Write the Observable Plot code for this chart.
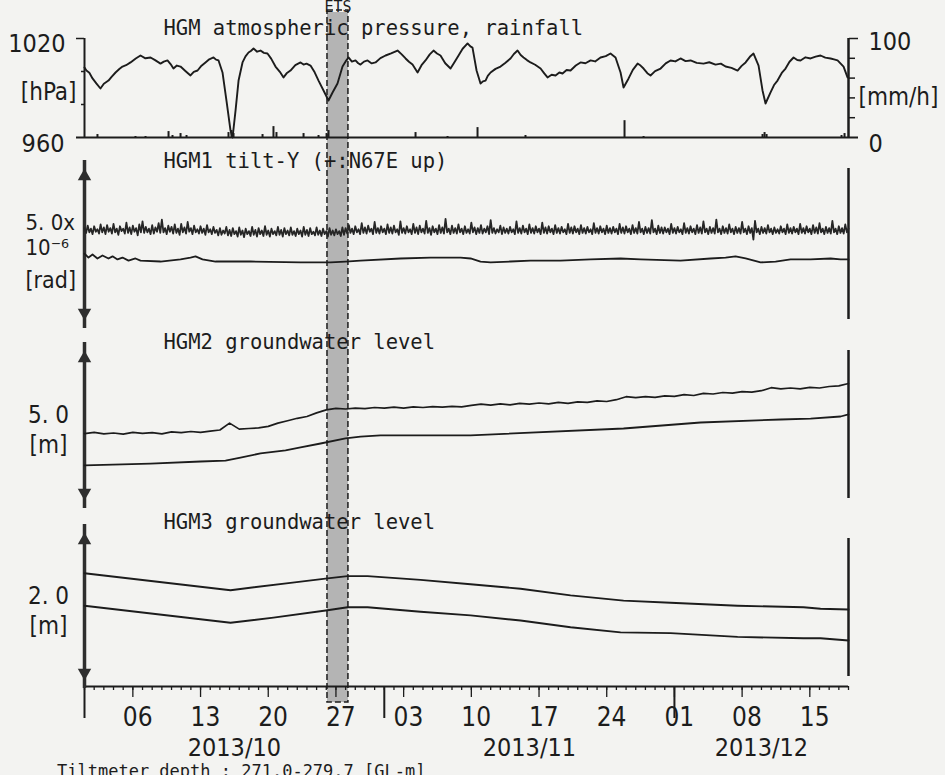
<!DOCTYPE html>
<html><head><meta charset="utf-8">
<script src="https://cdn.jsdelivr.net/npm/d3@7"></script>
<script src="https://cdn.jsdelivr.net/npm/@observablehq/plot@0.6"></script>
<style>
html,body{margin:0;padding:0;background:#f3f3f1;}
#wrap{position:relative;width:945px;height:775px;overflow:hidden;background:#f3f3f1;}
#wrap svg{position:absolute;left:0;top:0;background:transparent;}
#cap{position:absolute;left:57px;top:763px;font:17px/1 "DejaVu Sans Mono",monospace;color:#1c1c1c;white-space:pre;}
</style></head><body><div id="wrap"><div id="cap">Tiltmeter depth : 271.0-279.7 [GL-m]</div></div>
<script>
// ---------- data (days counted from 2013-10-01 00:00 UTC) ----------
const pressureDay = [0,0.2,0.5,0.83,1.2,1.65,2.0,2.48,2.8,3.21,3.6,3.93,4.3,4.76,5.3,5.79,6.3,6.83,7.3,7.86,8.2,8.58,8.9,9.2,9.55,9.93,10.4,10.96,11.3,11.69,12.1,12.51,12.9,13.34,13.6,13.86,14.27,14.68,15.1,15.31,15.62,15.93,16.34,16.65,16.96,17.2,17.48,17.85,18.2,18.55,18.92,19.3,19.75,20.2,20.58,20.9,21.3,21.8,22.34,22.65,22.96,23.37,23.8,24.2,24.82,25.23,25.65,26.16,26.68,27.0,27.3,27.65,28.02,28.3,28.54,28.9,29.27,29.7,30.09,30.6,31.13,31.7,32.37,32.8,33.2,33.55,33.92,34.44,34.85,35.26,35.7,36.09,36.45,36.81,37.3,37.85,38.3,38.68,39.1,39.61,39.9,40.12,40.54,40.95,41.2,41.47,41.7,41.99,42.5,43.02,43.5,44.05,44.4,44.78,45.1,45.4,45.75,46.12,46.6,47.16,47.5,47.88,48.3,48.71,49.1,49.43,49.85,50.26,50.8,51.29,51.8,52.33,52.8,53.36,53.9,54.39,54.91,55.43,55.74,56.26,56.7,57.19,57.5,57.81,58.2,58.53,59.0,59.57,60.1,60.6,61.1,61.63,62.15,62.67,63.3,64.01,64.6,65.25,65.8,66.29,66.9,67.53,67.95,68.36,68.8,69.18,69.7,70.11,70.42,70.94,71.3,71.66,72.1,72.49,72.9,73.32,73.7,74.04,74.55,75.08,75.6,76.11,76.6,77.15,77.5,77.87,78.49,78.9];
const pressureHPa = [1002.4,1000.6,999.2,995.8,993.0,989.7,992.6,994.5,996.8,999.4,1001.5,1003.0,1003.8,1005.5,1007.9,1009.7,1008.0,1008.5,1006.9,1004.8,1006.0,1006.7,1004.5,1001.8,1003.6,1003.0,1000.5,997.6,999.8,1000.6,1003.5,1005.5,1007.4,1008.5,1007.2,1006.7,999.4,982.4,964.2,960.0,976.4,994.5,1005.5,1009.2,1011.5,1012.4,1013.9,1012.0,1012.7,1011.3,1010.9,1007.8,1003.0,999.8,996.4,998.9,1000.6,1003.9,1005.5,1004.2,1004.8,1003.6,999.5,994.5,987.3,982.4,987.3,992.7,1003.0,1006.1,1008.5,1006.0,1006.7,1005.0,1004.2,1006.0,1006.7,1004.9,1005.5,1008.1,1009.7,1011.0,1012.7,1010.4,1007.9,1005.9,1004.2,999.4,1003.8,1006.7,1010.4,1012.7,1010.9,1009.7,1005.0,1001.8,1006.1,1009.7,1013.8,1017.0,1015.2,1014.5,1000.6,992.7,994.0,994.5,997.3,999.4,1001.6,1003.0,1005.2,1007.9,1010.6,1012.7,1010.0,1008.5,1006.9,1005.5,1004.1,1001.8,999.2,996.4,998.0,997.6,999.4,998.8,1000.9,1000.6,1003.6,1005.5,1005.0,1006.7,1006.1,1008.5,1009.3,1010.9,1008.5,999.4,990.3,995.8,1001.0,1004.8,1003.6,1001.8,999.0,997.6,1000.2,1001.8,1004.9,1006.7,1006.1,1007.9,1006.3,1006.7,1005.2,1004.8,1005.6,1004.2,1004.8,1003.0,1002.2,1000.6,1003.4,1005.5,1008.9,1010.9,1003.6,988.5,980.6,987.3,991.8,994.5,999.1,1001.8,1005.9,1008.5,1007.0,1006.7,1008.6,1007.9,1009.0,1009.7,1008.4,1007.9,1007.3,1006.7,1003.0,996.4];

const rainDay = [1.34,5.27,6.31,8.69,9.1,9.93,10.55,14.89,15.2,15.41,18.41,19.54,19.85,22.65,24.2,25.03,25.23,34.23,37.54,40.64,45.6,55.84,57.81,70.11,70.32,70.53,78.28,78.59];
const rainMMh = [3,1,1,6,2,4,2,5,7,4,3,11,5,4,2,4,7,5,1,10,2,17,1,3,5,3,2,4];

// HGM1 tilt-Y raw, one value every 4 hours (x10^-6 rad)
const tiltRaw = [
 3.04,2.88,3.12,2.90,3.02,2.84, 3.10,2.92,3.00,2.86,3.16,2.90, 3.06,2.84,3.14,2.92,3.04,2.86, 3.18,2.90,3.02,2.82,3.10,2.94, 3.02,2.86,3.22,2.88,3.06,2.84,
 3.12,2.92,3.04,2.80,3.16,2.90, 3.26,2.88,3.08,2.90,3.02,2.84, 3.14,2.86,3.06,2.92,3.20,2.88, 3.32,2.90,3.04,2.84,3.12,2.92, 3.08,2.86,3.16,2.88,3.02,2.82,
 3.18,2.90,3.06,2.86,3.24,2.92, 3.04,2.84,3.12,2.90,3.00,2.86, 3.10,2.88,3.02,2.82,3.14,2.90, 3.00,2.84,3.08,2.88,2.98,2.80, 3.04,2.82,2.96,2.86,3.08,2.80,
 2.98,2.78,3.04,2.84,2.94,2.76, 3.06,2.82,2.96,2.74,3.02,2.84, 2.94,2.78,3.08,2.82,2.98,2.76, 3.04,2.84,2.96,2.78,3.10,2.82, 2.96,2.76,3.02,2.84,2.94,2.80,
 3.08,2.82,2.98,2.76,3.04,2.84, 2.96,2.80,3.06,2.82,2.94,2.78, 3.02,2.84,2.96,2.76,3.08,2.82, 2.98,2.78,3.04,2.84,2.92,2.80, 3.06,2.82,2.96,2.78,3.02,2.84,
 2.94,2.76,3.04,2.82,2.96,2.80, 3.00,2.84,2.94,2.78,3.06,2.82, 3.04,2.86,3.14,2.88,3.02,2.84, 3.10,2.90,3.00,2.84,3.20,2.88, 3.06,2.86,3.12,2.92,3.02,2.84,
 3.24,2.88,3.04,2.86,3.10,2.90, 3.02,2.84,3.16,2.88,3.06,2.86, 3.12,2.90,3.00,2.82,3.26,2.88, 3.04,2.86,3.10,2.90,3.00,2.84, 3.18,2.88,3.06,2.84,3.12,2.90,
 3.02,2.86,3.28,2.88,3.04,2.82, 3.10,2.90,3.02,2.84,3.14,2.88, 3.06,2.86,3.34,2.90,3.02,2.84, 3.12,2.88,3.04,2.86,3.16,2.90, 3.02,2.84,3.10,2.88,3.00,2.86,
 3.22,2.90,3.06,2.84,3.04,2.88, 3.14,2.86,3.02,2.90,3.10,2.84, 3.30,2.88,3.04,2.86,3.00,2.90, 3.12,2.84,3.06,2.88,3.02,2.86, 3.08,2.90,3.00,2.84,3.26,2.88,
 3.04,2.86,3.12,2.90,3.02,2.84, 3.16,2.88,3.04,2.86,3.10,2.90, 3.02,2.84,3.22,2.88,3.06,2.86, 3.10,2.90,3.02,2.84,3.14,2.88, 3.04,2.86,3.08,2.90,3.00,2.84,
 3.18,2.88,3.06,2.86,3.10,2.90, 3.02,2.84,3.14,2.88,3.04,2.86, 3.08,2.90,3.00,2.84,3.20,2.88, 3.04,2.86,3.10,2.90,3.02,2.84, 3.12,2.88,3.04,2.86,3.08,2.90,
 3.02,2.84,3.18,2.88,3.06,2.86, 3.10,2.90,3.02,2.84,3.14,2.88, 3.04,2.86,3.24,2.90,3.02,2.84, 3.08,2.88,3.04,2.86,3.30,2.90, 3.02,2.84,3.12,2.88,3.06,2.86,
 3.06,2.90,3.02,2.84,3.18,2.88, 3.04,2.86,3.08,2.90,3.00,2.84, 3.20,2.88,3.04,2.86,3.10,2.90, 3.02,2.84,3.14,2.88,3.06,2.86, 3.26,2.90,3.02,2.84,3.08,2.88,
 3.04,2.86,3.32,2.90,3.02,2.84, 3.10,2.88,3.04,2.86,3.16,2.90, 3.02,2.84,3.08,2.88,3.04,2.86, 3.24,2.90,3.02,2.84,3.10,2.88, 3.04,2.66,3.28,2.90,3.02,2.84,
 3.08,2.88,3.04,2.86,3.14,2.90, 3.02,2.84,3.06,2.88,3.00,2.86, 3.10,2.90,3.02,2.84,3.16,2.88, 3.04,2.86,3.08,2.90,3.02,2.84, 3.18,2.88,3.04,2.86,3.10,2.90,
 3.02,2.84,3.14,2.88,3.06,2.86, 3.20,2.90,3.02,2.84,3.08,2.88, 3.04,2.86,3.28,2.90,3.02,2.84, 3.10,2.88,3.04,2.86,3.16,2.90, 3.02];
// HGM1 tilt-Y corrected
const tiltCorrDay = [0,0.41,0.83,1.34,1.86,2.48,2.9,3.41,3.93,4.55,5.27,5.79,7.86,9.93,10.96,11.48,12.2,13.55,17.17,22.34,25.44,26.99,28.54,32.68,35.78,38.88,39.92,40.95,41.99,44.05,46.12,49.22,52.33,55.43,57.5,61.63,64.74,66.29,67.32,68.36,69.91,71.46,73.01,75.08,77.15,78.18,79];
const tiltCorr = [2.20,2.07,2.17,2.04,2.14,2.04,2.11,2.01,2.07,1.97,2.04,1.97,1.94,2.01,2.07,2.11,2.01,1.94,1.94,1.91,1.91,1.94,1.97,2.04,2.07,2.07,2.04,1.94,1.91,1.94,1.97,1.97,2.01,2.04,2.01,1.97,2.04,2.07,2.11,2.04,1.91,1.94,2.01,2.01,2.04,2.01,2.01];

// HGM2 groundwater level, raw (daily) and corrected [m]
const gw2Raw = [2.23,2.27,2.22,2.25,2.21,2.27,2.24,2.26,2.22,2.29,2.26,2.30,2.27,2.31,2.35,2.58,2.38,2.40,2.42,2.47,2.58,2.66,2.74,2.80,2.92,3.02,3.07,3.05,3.08,3.06,3.10,3.08,3.11,3.08,3.12,3.10,3.13,3.11,3.14,3.12,3.17,3.21,3.18,3.22,3.19,3.24,3.21,3.25,3.22,3.27,3.24,3.29,3.27,3.32,3.30,3.36,3.46,3.43,3.46,3.44,3.49,3.47,3.53,3.50,3.57,3.55,3.60,3.58,3.63,3.61,3.66,3.76,3.72,3.75,3.72,3.77,3.75,3.80,3.82,3.90];
const gw2CorrDay = [0,6.83,12,14.58,16.13,18.2,20.79,22.34,24.41,26.99,28.54,30.61,39.92,55.74,63.7,71.98,75.08,78.18,79];
const gw2Corr = [1.17,1.23,1.30,1.33,1.43,1.57,1.67,1.77,1.90,2.07,2.13,2.17,2.17,2.40,2.60,2.70,2.73,2.80,2.87];

// HGM3 groundwater level [m]
const gw3Day = [0,15.1,21.3,25.13,27.2,29.27,34.75,39.92,45.09,50.26,55.74,60.6,67.53,74.35,76.11,79];
const gw3Upper = [1.45,1.22,1.32,1.38,1.41,1.41,1.36,1.30,1.24,1.15,1.08,1.05,1.01,0.99,0.97,0.96];
const gw3LowerDay = [0,15.1,19.54,25.13,27.2,29.27,34.75,39.92,45.09,50.26,55.43,60.6,67.53,74.35,76.11,79];
const gw3Lower = [1.01,0.78,0.85,0.95,0.99,0.99,0.93,0.88,0.81,0.72,0.65,0.64,0.59,0.57,0.57,0.54];

// axis text
const weekTickDates = ["2013-10-06","2013-10-13","2013-10-20","2013-10-27","2013-11-03","2013-11-10","2013-11-17","2013-11-24","2013-12-01","2013-12-08","2013-12-15"];
const weekTickLabels = ["06","13","20","27","03","10","17","24","01","08","15"];
const monthTickDates = ["2013-10-01","2013-11-01","2013-12-01"];
const monthLabels = ["2013/10","2013/11","2013/12"];
const monthLabelDates = ["2013-10-16T12:00Z","2013-11-16T00:00Z","2013-12-10T00:00Z"];
const etsPeriod = {start: "2013-10-26T03:00Z", end: "2013-10-28T07:00Z"};
const titles = ["HGM atmospheric pressure, rainfall","HGM1 tilt-Y (+:N67E up)","HGM2 groundwater level","HGM3 groundwater level"];

// ---------- rendering ----------
const INK = "#1c1c1c";
const MONO = '"DejaVu Sans Mono","Liberation Mono",monospace';
const NARROW = '"Liberation Sans Narrow","Arial Narrow","DejaVu Sans Condensed",sans-serif';
const T0 = Date.UTC(2013, 9, 1);
const day = d => new Date(T0 + d * 864e5);
const XDOMAIN = [day(0), day(79)];
const zipDays = (ds, vs) => ds.map((d, i) => ({t: day(d), v: vs[i]}));

const pressure = zipDays(pressureDay, pressureHPa);
const rain = zipDays(rainDay, rainMMh);
const tiltR = tiltRaw.map((v, i) => ({t: day(i / 6), v}));
const tiltC = zipDays(tiltCorrDay, tiltCorr);
const gw2R = gw2Raw.map((v, i) => ({t: day(i), v}));
const gw2C = zipDays(gw2CorrDay, gw2Corr);
const gw3U = zipDays(gw3Day, gw3Upper);
const gw3L = zipDays(gw3LowerDay, gw3Lower);

const wrap = document.getElementById("wrap");
function panel(top, bottom, ydomain, marks) {
  const svg = Plot.plot({
    width: 945, height: 775,
    marginLeft: 84, marginRight: 97, marginTop: top, marginBottom: 775 - bottom,
    x: {type: "utc", domain: XDOMAIN, axis: null},
    y: {domain: ydomain, axis: null},
    style: {background: "transparent", overflow: "visible", color: INK},
    marks
  });
  wrap.appendChild(svg);
}
const title = (s, dy) => Plot.text([s], {frameAnchor: "top-left", dx: 79, dy, textAnchor: "start", lineAnchor: "bottom", fontSize: 20.5, fontFamily: MONO, fill: INK});
const lab = (s, v, opts) => Plot.text([s], {y: [v], frameAnchor: "left", fontFamily: NARROW, fill: INK, fontSize: 24, ...opts});
const arrowMarks = (lo, hi) => [
  Plot.ruleX([day(0)], {y1: lo, y2: hi, stroke: "#2e2e2e", strokeWidth: 3.5, insetTop: 8, insetBottom: 8}),
  Plot.dot([hi], {x: () => day(0), y: d => d, symbol: "triangle", r: 5, fill: "#2e2e2e", stroke: "none", dy: 7.8}),
  Plot.dot([lo], {x: () => day(0), y: d => d, symbol: "triangle", r: 5, fill: "#2e2e2e", stroke: "none", rotate: 180, dy: -7.8})
];
const rightFrame = (lo, hi, insetTop = 0, insetBottom = 0) => Plot.ruleX([day(79)], {y1: lo, y2: hi, stroke: INK, strokeWidth: 2.5, insetTop, insetBottom});
const noText = () => "";

// overlay: ETS band + time axis
const ets = {start: new Date(etsPeriod.start), end: new Date(etsPeriod.end)};
const dailyTicks = d3.utcDay.range(day(0), day(79.01));
wrap.appendChild(Plot.plot({
  width: 945, height: 775, marginLeft: 84, marginRight: 97, marginTop: 0, marginBottom: 89,
  x: {type: "utc", domain: XDOMAIN},
  y: {domain: [0, 1], axis: null},
  style: {background: "transparent", overflow: "visible", color: INK},
  marks: [
    Plot.rect([ets], {x1: "start", x2: "end", fill: "#b4b4b4", insetTop: 12, insetBottom: -16}),
    Plot.rect([ets], {x1: "start", x2: "end", fill: "none", stroke: INK, strokeWidth: 1.5, strokeDasharray: "6,3", insetTop: 10, insetBottom: -16}),
    Plot.text(["ETS"], {x: [new Date((+ets.start + +ets.end) / 2)], frameAnchor: "top", lineAnchor: "bottom", dy: 11, fontSize: 15, fontFamily: MONO, fill: INK}),
    Plot.ruleY([0], {stroke: INK, strokeWidth: 2}),
    Plot.axisX({ticks: dailyTicks, tickSize: 4, tickFormat: noText, label: null, strokeWidth: 1.3}),
    Plot.axisX({ticks: weekTickDates.map(s => new Date(s + "T00:00Z")), tickSize: 11, tickFormat: noText, label: null, strokeWidth: 1.3}),
    Plot.axisX({ticks: monthTickDates.map(s => new Date(s + "T00:00Z")), tickSize: 32, tickFormat: noText, label: null, strokeWidth: 2}),
    Plot.text(weekTickLabels, {x: (d, i) => new Date(+new Date(weekTickDates[i] + "T00:00Z") + 432e5), frameAnchor: "bottom", dy: 39, fontSize: 26, fontFamily: NARROW, fill: INK}),
    Plot.text(monthLabels, {x: (d, i) => new Date(monthLabelDates[i]), frameAnchor: "bottom", dy: 69, fontSize: 25, fontFamily: NARROW, fill: INK})
  ]
}));

// panel 1: atmospheric pressure
panel(38, 137, [960, 1020], [
  Plot.ruleX([day(0)], {y1: 960, y2: 1020, stroke: INK, strokeWidth: 2}),
  Plot.axisY({ticks: [1020], tickSize: 8, tickFormat: noText, label: null, strokeWidth: 1.5}),
  Plot.axisY({ticks: [980, 1000], tickSize: 3, tickFormat: noText, label: null, strokeWidth: 1.5}),
  Plot.line(pressure, {x: "t", y: "v", stroke: INK, strokeWidth: 1.9}),
  lab("1020", 1020, {textAnchor: "end", dx: -19, dy: 5, fontSize: 25}),
  lab("[hPa]", 987.3, {textAnchor: "end", dx: -8, fontSize: 24}),
  lab("960", 960, {textAnchor: "end", dx: -20, dy: 6, fontSize: 25}),
  title(titles[0], -4)
]);
// panel 1b: rainfall (right axis)
panel(38, 137, [0, 100], [
  Plot.ruleY([0], {stroke: INK, strokeWidth: 2, insetLeft: -8, insetRight: -10}),
  rightFrame(0, 100),
  Plot.axisY({anchor: "right", ticks: [100], tickSize: 9, tickFormat: noText, label: null, strokeWidth: 1.5}),
  Plot.axisY({anchor: "right", ticks: [20, 40, 60, 80], tickSize: 6, tickFormat: noText, label: null, strokeWidth: 1.5}),
  Plot.ruleX(rain, {x: "t", y1: 0, y2: "v", stroke: INK, strokeWidth: 2}),
  Plot.text(["100"], {y: [100], frameAnchor: "right", textAnchor: "start", dx: 20, dy: 3, fontSize: 25, fontFamily: NARROW, fill: INK}),
  Plot.text(["[mm/h]"], {y: [40.4], frameAnchor: "right", textAnchor: "start", dx: 10, fontSize: 24, fontFamily: NARROW, fill: INK}),
  Plot.text(["0"], {y: [0], frameAnchor: "right", textAnchor: "start", dx: 20, dy: 6, fontSize: 25, fontFamily: NARROW, fill: INK})
]);
// panel 2: tilt
panel(168, 320, [0, 5], [
  ...arrowMarks(0, 5),
  rightFrame(0, 5, -1, 0),
  Plot.line(tiltC, {x: "t", y: "v", stroke: INK, strokeWidth: 1.8}),
  Plot.line(tiltR, {x: "t", y: "v", stroke: "#262626", strokeWidth: 1.8}),
  lab("5. 0x", 3.22, {textAnchor: "start", dx: -59, fontSize: 22}),
  lab("10\u207B\u2076", 2.38, {textAnchor: "start", dx: -59, fontSize: 22}),
  lab("[rad]", 1.32, {textAnchor: "start", dx: -59, fontSize: 23}),
  title(titles[1], -1)
]);
// panel 3: HGM2 groundwater
panel(350, 500, [0, 5], [
  ...arrowMarks(0, 5),
  rightFrame(0, 5, -2, 0),
  Plot.line(gw2R, {x: "t", y: "v", stroke: INK, strokeWidth: 1.7}),
  Plot.line(gw2C, {x: "t", y: "v", stroke: INK, strokeWidth: 1.8}),
  lab("5. 0", 2.83, {textAnchor: "middle", dx: -36}),
  lab("[m]", 1.83, {textAnchor: "middle", dx: -36}),
  title(titles[2], -2)
]);
// panel 4: HGM3 groundwater
panel(532, 680, [0, 2], [
  ...arrowMarks(0, 2),
  rightFrame(0, 2, -4, -6),
  Plot.line(gw3U, {x: "t", y: "v", stroke: INK, strokeWidth: 1.9}),
  Plot.line(gw3L, {x: "t", y: "v", stroke: INK, strokeWidth: 1.9}),
  lab("2. 0", 1.135, {textAnchor: "middle", dx: -36}),
  lab("[m]", 0.73, {textAnchor: "middle", dx: -36}),
  title(titles[3], -4)
]);
</script></body></html>
